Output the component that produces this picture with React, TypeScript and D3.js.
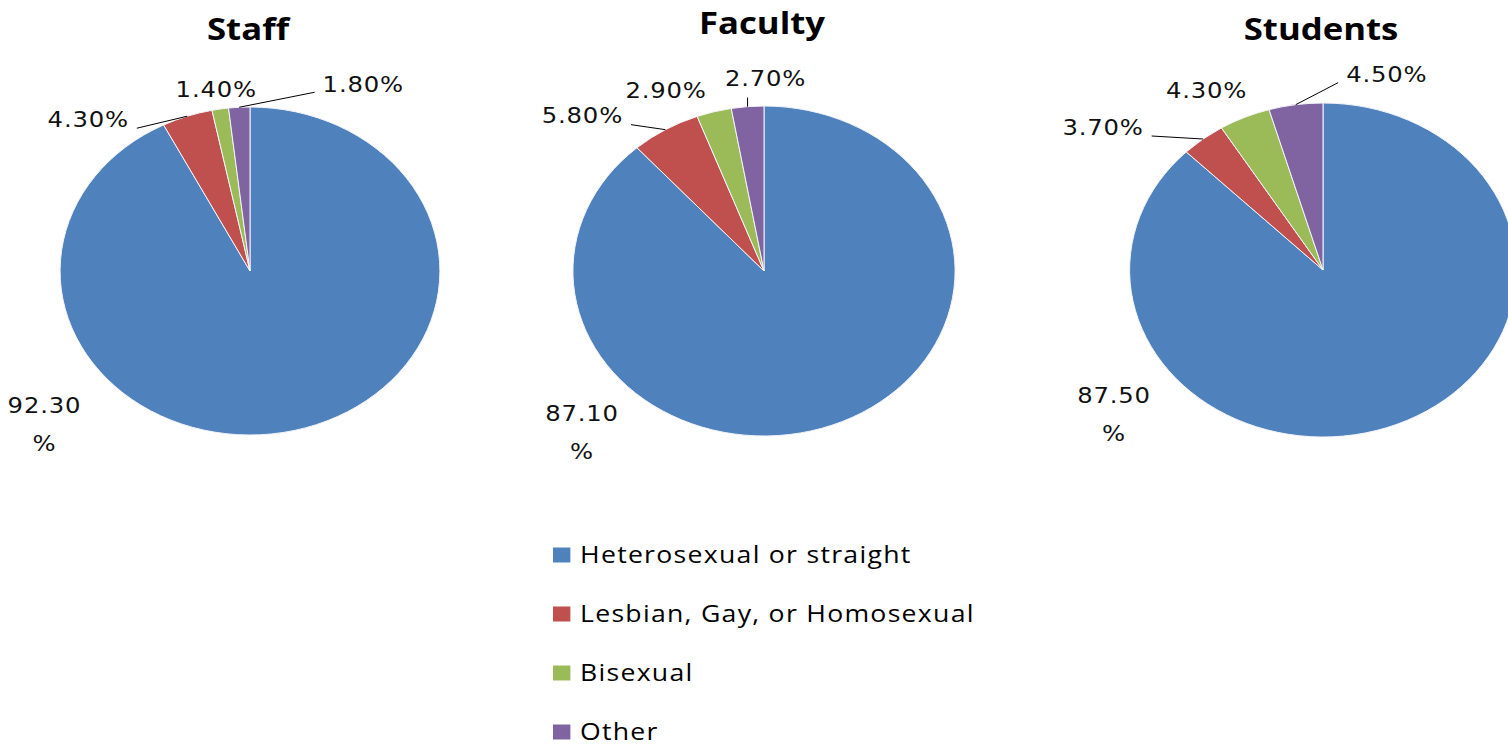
import React, { useEffect, useRef } from 'react';
import * as d3 from 'd3';

const categories = ['Heterosexual or straight', 'Lesbian, Gay, or Homosexual', 'Bisexual', 'Other'];
const groups = ['Staff', 'Faculty', 'Students'];
const staffValues = [92.3, 4.3, 1.4, 1.8];
const facultyValues = [87.1, 5.8, 2.9, 2.7];
const studentValues = [87.5, 3.7, 4.3, 4.5];
const colors = ['#4F81BD', '#C0504D', '#9BBB59', '#8064A2'];

// the original picture is stretched sideways, so pies and text get the same x scale
const stretch = 1.158;
const pieLayout = [
  { cx: 250, cy: 271, r: 164, titleY: 40, shift: [[-250, -25], [-99, 3], [-4, -20], [124, -23]] },
  { cx: 764, cy: 271, r: 165, titleY: 34, shift: [[-250, -12], [-83, -14], [-48, -21], [18, -28]] },
  { cx: 1323, cy: 270, r: 167, titleY: 40, shift: [[-283, -29], [-100, -12], [-38, -27], [91, -30]] },
];
const leaderFor = [false, true, false, true];

const PieTrio = () => {
  const ref = useRef(null);

  useEffect(() => {
    if (!ref.current) return;
    const svg = d3.select(ref.current);
    svg.selectAll('*').remove();

    const series = [staffValues, facultyValues, studentValues];
    const pie = d3.pie().sort(null).value((d) => d);
    const arc = d3.arc().innerRadius(0);
    const fmt = d3.format('.2f');

    series.forEach((values, i) => {
      const L = pieLayout[i];
      const rx = L.r * stretch;
      const ry = L.r;
      const arcs = pie(values);
      const g = svg.append('g');

      g.append('text')
        .attr('transform', `translate(${L.cx - 2},${L.titleY}) scale(${stretch},1)`)
        .attr('text-anchor', 'middle')
        .attr('font-family', '"Open Sans", sans-serif')
        .attr('font-weight', 700)
        .attr('font-size', 30)
        .attr('fill', '#000')
        .text(groups[i]);

      g.append('g')
        .attr('transform', `translate(${L.cx},${L.cy}) scale(${stretch},1)`)
        .selectAll('path')
        .data(arcs)
        .join('path')
        .attr('d', (d) => arc.outerRadius(L.r)(d))
        .attr('fill', (d, j) => colors[j])
        .attr('stroke', '#f4f4fa')
        .attr('stroke-width', 1)
        .attr('vector-effect', 'non-scaling-stroke');

      // where a leader line from p toward a first meets the ellipse
      const edge = (px, py, ax, ay) => {
        const X0 = (px - L.cx) / rx, Y0 = (py - L.cy) / ry;
        const U = (ax - px) / rx, V = (ay - py) / ry;
        const A = U * U + V * V, B = 2 * (X0 * U + Y0 * V), C = X0 * X0 + Y0 * Y0 - 1;
        const disc = B * B - 4 * A * C;
        let t = 1;
        if (disc >= 0) {
          const t1 = (-B - Math.sqrt(disc)) / (2 * A);
          if (t1 >= 0 && t1 <= 1) t = t1;
        }
        return [px + t * (ax - px), py + t * (ay - py)];
      };

      arcs.forEach((d, j) => {
        const a = (d.startAngle + d.endAngle) / 2;
        const ax = L.cx + rx * Math.sin(a);
        const ay = L.cy - ry * Math.cos(a);
        const [dx, dy] = L.shift[j];
        const lx = ax + dx;
        const ly = ay + dy;
        const txt = fmt(values[j]) + '%';
        const lines = j === 0 ? [txt.slice(0, -1), '%'] : [txt];

        const t = g.append('text')
          .attr('transform', `translate(${lx},${ly}) scale(${stretch},1)`)
          .attr('text-anchor', 'middle')
          .attr('font-family', '"DejaVu Sans", sans-serif')
          .attr('font-size', 21)
          .attr('letter-spacing', 0.7)
          .attr('fill', '#111');
        lines.forEach((s, k) => {
          t.append('tspan').attr('x', 0).attr('y', k * 38).attr('dy', '0.36em').text(s);
        });

        if (leaderFor[j]) {
          const hw = (t.node().getBBox().width * stretch) / 2;
          let ex, ey;
          if (Math.abs(dx) < hw) { ex = ax; ey = ly + 19; }
          else if (dx < 0) { ex = lx + hw + 8; ey = ly + 9; }
          else { ex = lx - hw - 8; ey = ly + 8; }
          const [sx, sy] = edge(ex, ey, ax, ay);
          g.append('line')
            .attr('x1', ex).attr('y1', ey)
            .attr('x2', sx).attr('y2', sy)
            .attr('stroke', '#000')
            .attr('stroke-width', 1);
        }
      });
    });

    const y = d3.scalePoint().domain(categories).range([555, 732]);
    const legend = svg.append('g')
      .selectAll('g')
      .data(categories)
      .join('g');
    legend.append('rect')
      .attr('x', 553)
      .attr('y', (d) => y(d) - 7.5)
      .attr('width', 15 * stretch)
      .attr('height', 15)
      .attr('fill', (d, j) => colors[j]);
    legend.append('text')
      .attr('transform', (d) => `translate(580,${y(d)}) scale(${stretch},1)`)
      .attr('dy', '0.35em')
      .attr('font-family', '"Open Sans", sans-serif')
      .attr('font-size', 23)
      .attr('letter-spacing', 1.1)
      .attr('fill', '#000')
      .text((d) => d);
  }, []);

  return (
    <svg
      ref={ref}
      width={1508}
      height={745}
      style={{ position: 'absolute', left: 0, top: 0, background: '#fff' }}
    />
  );
};

export default function App() {
  return <PieTrio />;
}
